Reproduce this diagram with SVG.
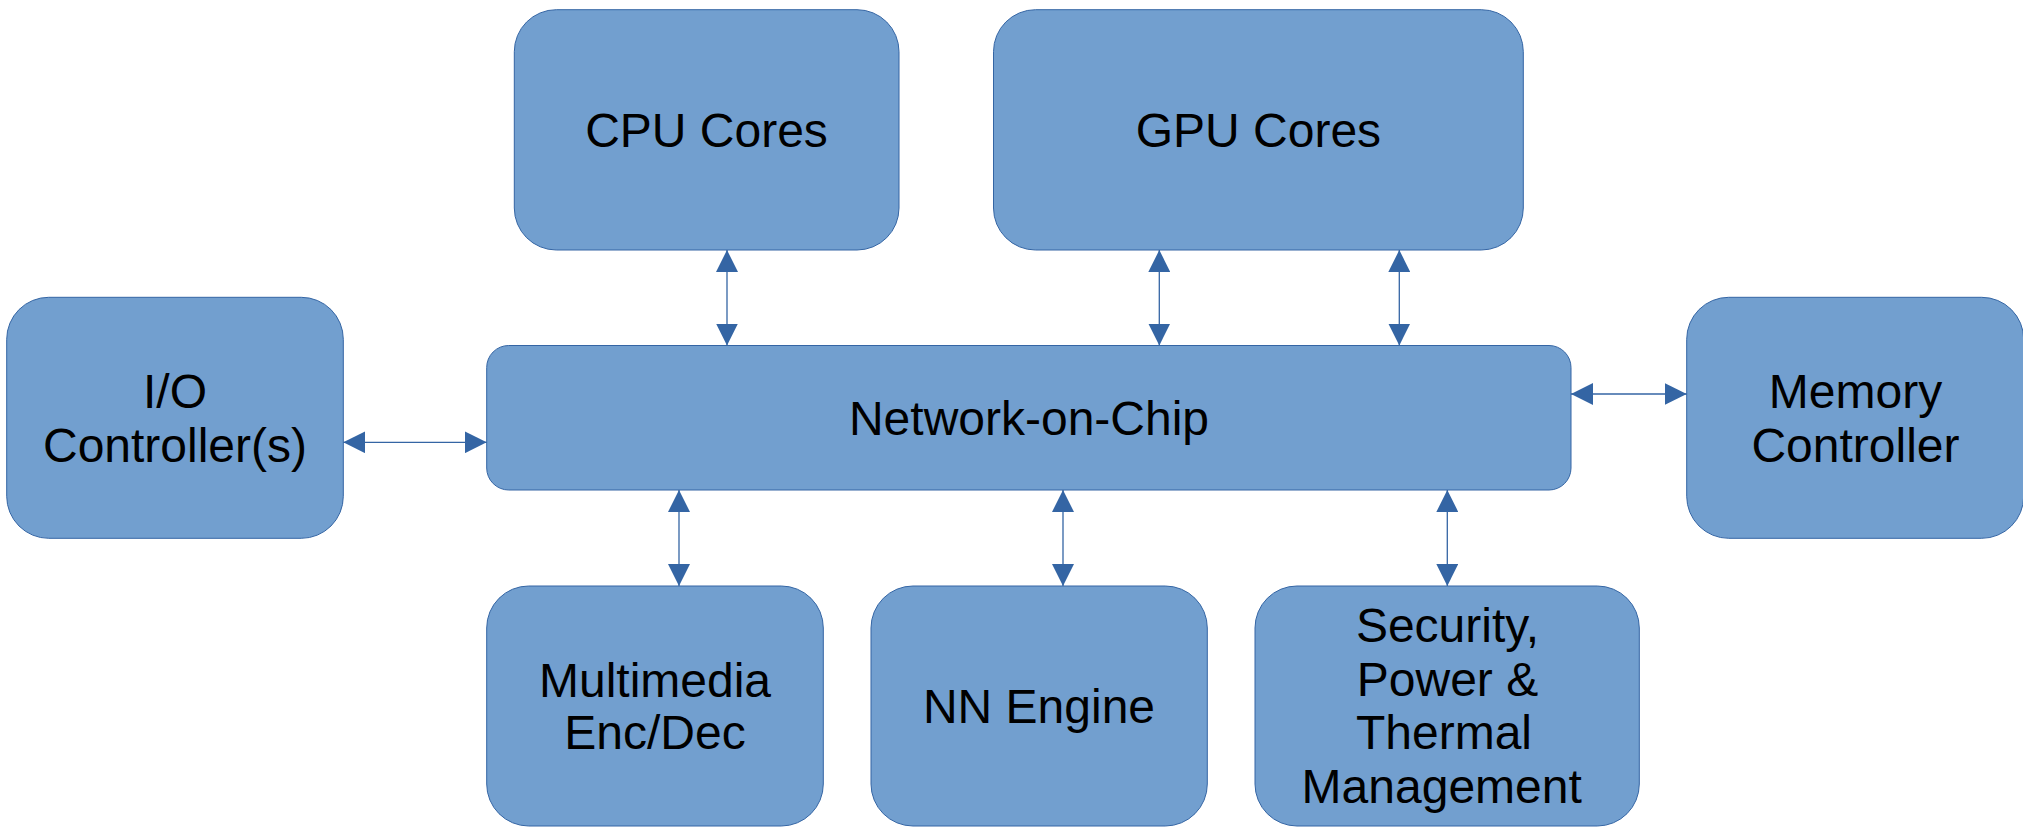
<svg xmlns="http://www.w3.org/2000/svg" width="2023" height="829" viewBox="0 0 2023 829">
<style>
.box{fill:#729fcf;stroke:#3465a4;stroke-width:1}
.t{font-family:"Liberation Sans",Arial,sans-serif;font-size:48px;fill:#000;text-anchor:middle}
.c{stroke:#3465a4;stroke-width:1.3;fill:none;marker-start:url(#ah);marker-end:url(#ah)}
</style>
<defs>
<marker id="ah" markerUnits="userSpaceOnUse" viewBox="0 0 22 22" refX="22" refY="11" markerWidth="22" markerHeight="22" orient="auto-start-reverse">
<path d="M0,0 L22,11 L0,22 z" fill="#3465a4"/>
</marker>
</defs>
<rect width="2023" height="829" fill="#fff"/>
<g id="cpu"><rect class="box" x="514.3" y="9.7" width="384.7" height="240.3" rx="42"/><text class="t" x="706.5" y="146.7">CPU Cores</text></g>
<g id="gpu"><rect class="box" x="993.5" y="9.7" width="529.8" height="240.3" rx="42"/><text class="t" x="1258.4" y="146.7">GPU Cores</text></g>
<g id="io"><rect class="box" x="6.7" y="297.3" width="336.6" height="241" rx="42"/><text class="t"><tspan x="175" y="408">I/O</tspan><tspan x="175" y="461.7">Controller(s)</tspan></text></g>
<g id="noc"><rect class="box" x="486.7" y="345.5" width="1084.3" height="144.5" rx="22"/><text class="t" x="1029" y="435">Network-on-Chip</text></g>
<g id="mem"><rect class="box" x="1686.7" y="297.3" width="337" height="241" rx="42"/><text class="t"><tspan x="1855.5" y="408.3">Memory</tspan><tspan x="1855.5" y="461.7">Controller</tspan></text></g>
<g id="mm"><rect class="box" x="486.7" y="586" width="336.6" height="240" rx="42"/><text class="t"><tspan x="655" y="696.7">Multimedia</tspan><tspan x="655" y="749.3">Enc/Dec</tspan></text></g>
<g id="nn"><rect class="box" x="871" y="586" width="336.3" height="240" rx="42"/><text class="t" x="1039" y="723.3">NN Engine</text></g>
<g id="sec"><rect class="box" x="1255" y="586" width="384.3" height="240" rx="42"/><text class="t"><tspan x="1447.5" y="642.3">Security,</tspan><tspan x="1447.5" y="696">Power &amp;</tspan><tspan x="1444" y="749.3">Thermal</tspan><tspan x="1441.7" y="803.3">Management</tspan></text></g>
<g id="connectors">
<line class="c" x1="727" y1="250" x2="727" y2="345.5"/>
<line class="c" x1="1159.3" y1="250" x2="1159.3" y2="345.5"/>
<line class="c" x1="1399.3" y1="250" x2="1399.3" y2="345.5"/>
<line class="c" x1="343.3" y1="442.3" x2="486.7" y2="442.3"/>
<line class="c" x1="1571" y1="394" x2="1686.7" y2="394"/>
<line class="c" x1="679" y1="490" x2="679" y2="586"/>
<line class="c" x1="1063" y1="490" x2="1063" y2="586"/>
<line class="c" x1="1447.3" y1="490" x2="1447.3" y2="586"/>
</g>
</svg>
